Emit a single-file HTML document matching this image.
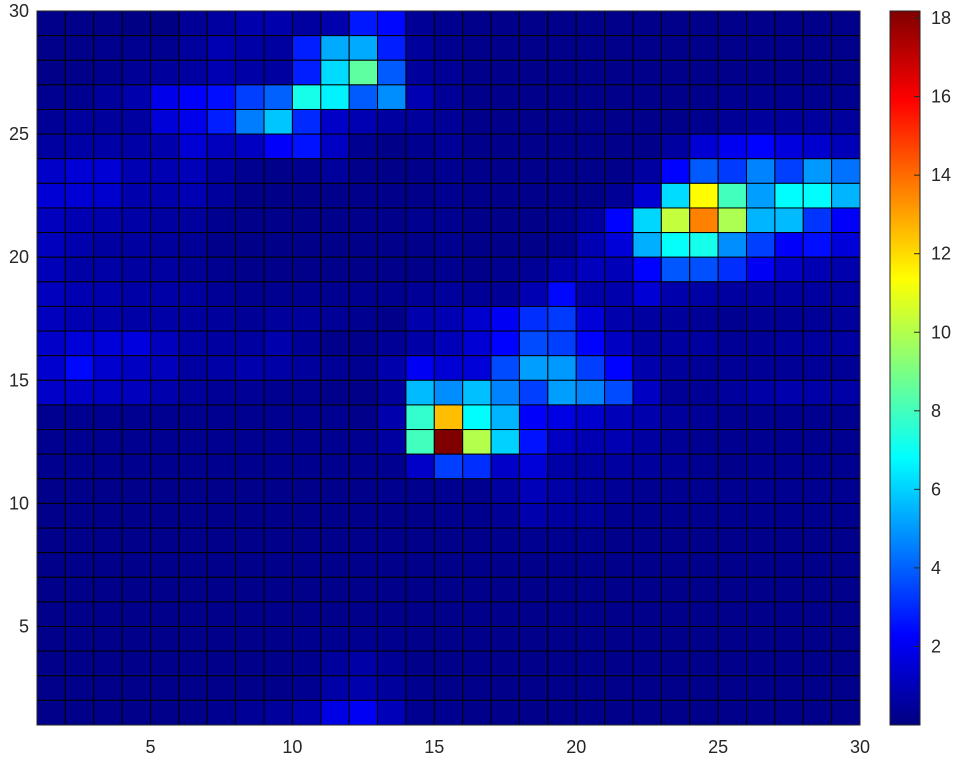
<!DOCTYPE html>
<html><head><meta charset="utf-8"><style>
html,body{margin:0;padding:0;background:#fff;}
svg text{font-family:"Liberation Sans",sans-serif;font-size:18px;fill:#262626;}
</style></head><body>
<svg id="chart" width="957" height="757" viewBox="0 0 957 757" xmlns="http://www.w3.org/2000/svg">
<g id="cells"></g>
<g id="axes"></g>
<defs><linearGradient id="jetgrad" x1="0" y1="1" x2="0" y2="0">
<stop offset="0" stop-color="#000080"/><stop offset="0.125" stop-color="#0000ff"/>
<stop offset="0.375" stop-color="#00ffff"/><stop offset="0.625" stop-color="#ffff00"/>
<stop offset="0.875" stop-color="#ff0000"/><stop offset="1" stop-color="#800000"/></linearGradient></defs>
<rect x="890" y="11" width="30" height="714" fill="url(#jetgrad)" stroke="#262626" stroke-width="1"/>
<g id="cbar"></g>
</svg>
<script>
const xTicks=[5,10,15,20,25,30];
const yTicks=[5,10,15,20,25,30];
const cbarTicks=[2,4,6,8,10,12,14,16,18];
const cMin=0, cMax=18.18;
// rows listed from top (y 29-30) to bottom (y 1-2); columns x 1..29
const row0=[.2,.2,.15,.1,.1,.4,.6,.8,.8,.6,.8,2.7,2.4,.4,.3,.2,.2,.2,.2,.2,.2,.2,.2,.2,.2,.2,.2,.2,.2];
const row1=[.2,.2,.25,.3,.3,.5,.9,.7,.6,2.8,5.3,5.3,2.8,.5,.3,.2,.2,.2,.2,.2,.2,.2,.2,.2,.2,.2,.2,.2,.2];
const row2=[.15,.2,.25,.4,.5,.6,.9,.7,.6,2.8,6.2,8.5,3.9,.5,.4,.2,.2,.2,.2,.2,.2,.2,.2,.2,.2,.2,.2,.2,.2];
const row3=[.3,.3,.5,.8,1.9,2.2,2.5,3.4,4.0,7.2,6.6,3.9,4.8,.9,.4,.2,.2,.2,.2,.2,.2,.2,.2,.2,.3,.3,.3,.3,.3];
const row4=[.4,.5,.5,.6,1.6,1.9,2.8,4.5,5.8,3.0,1.3,.9,.6,.5,.4,.2,.2,.2,.2,.2,.2,.2,.2,.3,.4,.5,.5,.5,.5];
const row5=[.6,.7,.7,.7,.8,1.5,1.1,1.2,2.2,2.6,1.2,.3,.15,.3,.4,.2,.2,.2,.2,.2,.2,.2,.6,1.5,2.0,2.3,1.7,1.4,1.0];
const row6=[1.3,1.5,1.5,.9,.9,1.0,.6,.3,.2,.3,.5,.2,.15,.2,.3,.2,.2,.2,.2,.2,.2,.6,2.3,3.9,3.3,4.6,3.4,5.0,4.3];
const row7=[1.5,1.5,1.4,.8,.8,.9,.5,.2,.15,.15,.2,.2,.2,.2,.3,.2,.2,.2,.2,.2,.4,1.5,6.2,11.4,8.0,5.1,6.8,6.8,5.5];
const row8=[1.1,.9,.8,.7,.6,.5,.3,.2,.2,.15,.2,.2,.2,.3,.3,.15,.15,.15,.3,.6,2.3,6.1,10.3,13.6,9.9,5.5,5.6,3.2,2.2];
const row9=[1.1,.8,.6,.6,.5,.4,.2,.15,.15,.15,.15,.15,.2,.2,.3,.15,.15,.15,.3,.9,1.6,5.4,6.9,7.2,4.8,3.4,2.2,2.5,1.6];
const row10=[1.0,.7,.7,.6,.6,.4,.3,.2,.2,.2,.2,.15,.2,.2,.3,.2,.3,.4,.8,1.1,1.0,2.3,3.8,3.7,3.1,2.1,1.3,.9,.8];
const row11=[1.1,.9,.8,.7,.7,.6,.4,.3,.3,.3,.3,.3,.3,.4,.5,.4,.4,.9,2.4,.8,.8,1.5,.8,.7,.6,.6,.6,.6,.6];
const row12=[1.1,.9,.8,.7,.7,.6,.5,.4,.5,.5,.4,.3,.2,.8,.9,1.4,2.1,3.1,3.3,1.6,.8,.6,.5,.4,.3,.4,.4,.4,.5];
const row13=[1.3,1.6,1.6,1.7,1.1,.7,.6,.6,.8,.4,.2,.2,.4,.7,1.0,1.5,2.3,3.6,3.4,2.3,1.2,.6,.6,.6,.4,.4,.5,.5,.6];
const row14=[1.4,2.4,1.4,1.2,1.1,.6,.7,.8,.7,.5,.4,.3,.8,2.1,1.5,1.6,3.6,5.1,5.0,3.4,2.3,.8,.5,.4,.4,.4,.4,.4,.4];
const row15=[1.3,1.3,1.2,1.1,.8,.5,.4,.4,.3,.3,.2,.15,.5,5.6,4.8,5.7,4.6,3.4,5.1,4.6,3.6,1.2,.4,.4,.5,.7,.8,.7,.7];
const row16=[.3,.3,.3,.3,.3,.3,.3,.3,.3,.3,.3,.2,.8,7.7,12.5,6.8,5.5,2.2,1.8,1.4,1.0,.8,.5,.4,.3,.3,.3,.3,.3];
const row17=[.3,.3,.3,.3,.3,.3,.3,.3,.3,.3,.3,.3,.6,8.0,18.18,10.0,6.0,2.6,1.2,.9,.9,.6,.4,.3,.3,.3,.3,.3,.3];
const row18=[.25,.25,.25,.25,.25,.25,.25,.25,.25,.25,.25,.25,.3,1.3,3.4,3.1,1.3,1.6,.7,.6,.6,.5,.4,.3,.2,.3,.3,.3,.3];
const row19=[.2,.2,.2,.2,.2,.2,.2,.2,.2,.2,.2,.2,.25,.25,.3,.3,.6,1.0,.7,.5,.4,.3,.3,.3,.3,.3,.3,.3,.3];
const row20=[.2,.2,.2,.2,.2,.2,.2,.2,.2,.2,.2,.2,.2,.2,.25,.25,.4,.8,.6,.5,.3,.25,.25,.25,.25,.25,.25,.25,.25];
const row21=[.2,.2,.2,.2,.2,.2,.2,.2,.2,.2,.2,.2,.2,.2,.2,.2,.25,.3,.3,.25,.2,.2,.2,.2,.2,.2,.2,.2,.2];
const row22=[.2,.2,.2,.2,.2,.2,.2,.2,.2,.2,.2,.2,.2,.2,.2,.2,.2,.2,.2,.2,.2,.2,.2,.2,.2,.2,.2,.2,.2];
const row23=[.2,.2,.2,.2,.2,.2,.2,.2,.2,.2,.2,.2,.2,.2,.2,.2,.2,.2,.2,.2,.2,.2,.2,.2,.2,.2,.2,.2,.2];
const row24=[.2,.2,.2,.2,.2,.2,.2,.2,.2,.2,.2,.2,.2,.2,.2,.2,.2,.2,.2,.2,.2,.2,.2,.2,.2,.2,.2,.2,.2];
const row25=[.2,.2,.2,.2,.2,.2,.2,.2,.2,.25,.3,.3,.25,.2,.2,.2,.2,.2,.2,.2,.2,.2,.2,.2,.2,.2,.2,.2,.2];
const row26=[.2,.2,.2,.2,.2,.2,.2,.2,.2,.25,.5,.7,.4,.2,.2,.2,.2,.2,.2,.2,.2,.2,.2,.2,.2,.2,.2,.2,.2];
const row27=[.2,.2,.2,.2,.2,.2,.2,.2,.2,.3,.7,.8,.5,.25,.2,.2,.2,.2,.2,.2,.2,.2,.2,.2,.2,.2,.2,.2,.2];
const row28=[.2,.2,.2,.2,.2,.2,.3,.4,.5,.8,1.8,2.1,1.0,.3,.3,.2,.2,.2,.2,.2,.2,.2,.2,.2,.2,.2,.2,.2,.2];
const rows=[row0,row1,row2,row3,row4,row5,row6,row7,row8,row9,row10,row11,row12,row13,row14,row15,row16,row17,row18,row19,row20,row21,row22,row23,row24,row25,row26,row27,row28];

const X0=37,X1=860,Y0=725,Y1=11,VMIN=1,VMAX=30;
function xs(v){return X0+(v-VMIN)*(X1-X0)/(VMAX-VMIN);}
function ys(v){return Y0-(v-VMIN)*(Y0-Y1)/(VMAX-VMIN);}
function cs(v){return 725-(v-cMin)*(714)/(cMax-cMin);}
function jet(v){
  let t=Math.max(0,Math.min(1,(v-cMin)/(cMax-cMin)));
  function ch(x){return Math.max(0,Math.min(1,1.5-Math.abs(4*t-x)));}
  const r=ch(3),g=ch(2),b=ch(1);
  return `rgb(${Math.round(r*255)},${Math.round(g*255)},${Math.round(b*255)})`;
}
const NS='http://www.w3.org/2000/svg';
const cells=document.getElementById('cells');
rows.forEach((row,ri)=>{
  const yTop=30-ri, yBot=29-ri;
  row.forEach((val,ci)=>{
    const r=document.createElementNS(NS,'rect');
    const xa=xs(ci+1), xb=xs(ci+2);
    r.setAttribute('x',xa);r.setAttribute('y',ys(yTop));
    r.setAttribute('width',xb-xa);r.setAttribute('height',ys(yBot)-ys(yTop));
    r.setAttribute('fill',jet(val));r.setAttribute('stroke','#000');r.setAttribute('stroke-width','1');
    
    
    cells.appendChild(r);
  });
});
const axes=document.getElementById('axes');
const frame=document.createElementNS(NS,'rect');
frame.setAttribute('x',X0);frame.setAttribute('y',Y1);frame.setAttribute('width',X1-X0);frame.setAttribute('height',Y0-Y1);
frame.setAttribute('fill','none');frame.setAttribute('stroke','#262626');


axes.appendChild(frame);
xTicks.forEach(v=>{
  const t=document.createElementNS(NS,'text');
  t.setAttribute('x',xs(v));t.setAttribute('y',753);t.setAttribute('text-anchor','middle');
  t.textContent=v;
  
  
  axes.appendChild(t);
});
yTicks.forEach(v=>{
  const t=document.createElementNS(NS,'text');
  t.setAttribute('x',29);t.setAttribute('y',ys(v)+6);t.setAttribute('text-anchor','end');
  t.textContent=v;
  
  
  axes.appendChild(t);
});
const cb=document.getElementById('cbar');
cbarTicks.forEach(v=>{
  const l=document.createElementNS(NS,'line');
  l.setAttribute('x1',914);l.setAttribute('x2',920);l.setAttribute('y1',cs(v));l.setAttribute('y2',cs(v));
  l.setAttribute('stroke','#262626');
  
  
  cb.appendChild(l);
  const t=document.createElementNS(NS,'text');
  t.setAttribute('x',931);t.setAttribute('y',cs(v)+6);
  t.textContent=v;
  
  
  cb.appendChild(t);
});
</script>
</body></html>
